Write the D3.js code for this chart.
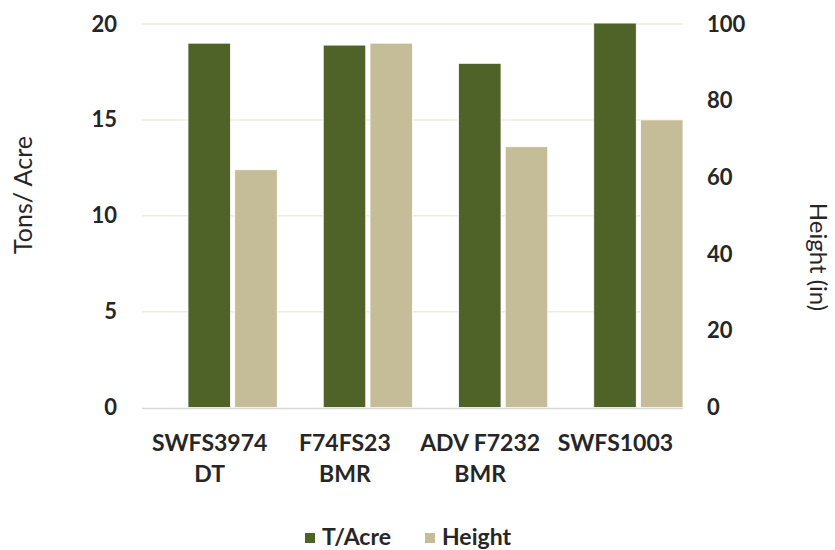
<!DOCTYPE html>
<html>
<head>
<meta charset="utf-8">
<script src="https://cdn.jsdelivr.net/npm/d3@7/dist/d3.min.js"></script>
<style>
  body { margin: 0; background: #fff; }
  svg { display: block; }
  text { font-family: Lato, "Open Sans", sans-serif; fill: #262626; }
</style>
</head>
<body>
<svg id="chart" width="835" height="550"></svg>
<script>
const categories = [["SWFS3974", "DT"], ["F74FS23", "BMR"], ["ADV F7232", "BMR"], ["SWFS1003"]];
const seriesNames = ["T/Acre", "Height"];
const tonsPerAcre = [19.0, 18.9, 17.95, 20.05];
const heightIn = [62, 95, 68, 75];
const leftTicks = [0, 5, 10, 15, 20];
const rightTicks = [0, 20, 40, 60, 80, 100];
const colors = ["#4F6228", "#C4BD97"];

const svg = d3.select("#chart");
const m = { left: 142, right: 683, top: 24, bottom: 407.5 };

const x = d3.scaleBand().domain(categories.map((d, i) => i)).range([m.left, m.right]).padding(0);
const bw = x.bandwidth();
const xs = d3.scaleBand().domain(seriesNames).range([bw * 0.34, bw]).paddingInner(0.09);
const yL = d3.scaleLinear().domain([0, 20]).range([m.bottom, m.top]);
const yR = d3.scaleLinear().domain([0, 100]).range([m.bottom, m.top]);

// gridlines
svg.append("g").selectAll("line").data(leftTicks.filter(t => t > 0)).join("line")
  .attr("x1", m.left).attr("x2", m.right)
  .attr("y1", d => yL(d)).attr("y2", d => yL(d))
  .attr("stroke", "#EEECE1").attr("stroke-width", 1.5);

// bars
const g = svg.append("g");
categories.forEach((c, i) => {
  g.append("rect")
    .attr("x", x(i) + xs("T/Acre"))
    .attr("y", yL(tonsPerAcre[i]))
    .attr("width", xs.bandwidth())
    .attr("height", yL(0) - yL(tonsPerAcre[i]))
    .attr("fill", colors[0]).attr("stroke", "#fff").attr("stroke-width", 0.8);
  g.append("rect")
    .attr("x", x(i) + xs("Height"))
    .attr("y", yR(heightIn[i]))
    .attr("width", xs.bandwidth())
    .attr("height", yR(0) - yR(heightIn[i]))
    .attr("fill", colors[1]).attr("stroke", "#fff").attr("stroke-width", 0.8);
});

// baseline
svg.append("line").attr("x1", m.left).attr("x2", m.right)
  .attr("y1", yL(0) + 1).attr("y2", yL(0) + 1)
  .attr("stroke", "#D9D9D9").attr("stroke-width", 1.5);

// left axis
const axL = svg.append("g").attr("transform", `translate(117,0)`)
  .call(d3.axisLeft(yL).tickValues(leftTicks).tickSize(0).tickPadding(0).tickFormat(d3.format("d")));
axL.select(".domain").remove();
axL.selectAll("text").style("font-size", "22px").style("font-weight", "bold").attr("fill", "#262626");

// right axis
const axR = svg.append("g").attr("transform", `translate(707,0)`)
  .call(d3.axisRight(yR).tickValues(rightTicks).tickSize(0).tickPadding(0).tickFormat(d3.format("d")));
axR.select(".domain").remove();
axR.selectAll("text").style("font-size", "22px").style("font-weight", "bold").attr("fill", "#262626");

// category labels
const cl = svg.append("g");
categories.forEach((c, i) => {
  const t = cl.append("text").attr("x", x(i) + bw / 2).attr("y", 451)
    .attr("text-anchor", "middle").style("font-size", "23px").style("font-weight", "bold");
  c.forEach((line, j) => {
    t.append("tspan").attr("x", x(i) + bw / 2).attr("dy", j === 0 ? 0 : 31).text(line);
  });
});

// axis titles
svg.append("text").attr("transform", "translate(32,195) rotate(-90)")
  .attr("text-anchor", "middle").style("font-size", "25px").text("Tons/ Acre");
svg.append("text").attr("transform", "translate(810,257) rotate(90)")
  .attr("text-anchor", "middle").style("font-size", "24px").text("Height (in)");

// legend
const lg = svg.append("g");
const legendX = [305, 425];
seriesNames.forEach((s, i) => {
  lg.append("rect").attr("x", legendX[i]).attr("y", 533).attr("width", 10).attr("height", 10).attr("fill", colors[i]);
  lg.append("text").attr("x", legendX[i] + 17).attr("y", 545)
    .style("font-size", "23px").style("font-weight", "bold").text(s);
});
</script>
</body>
</html>
